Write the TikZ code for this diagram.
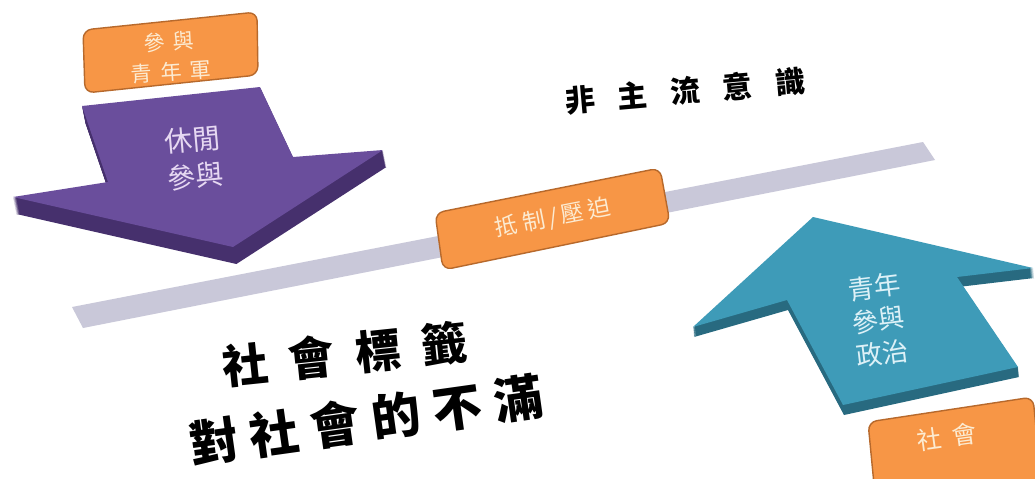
\documentclass[tikz,border=0pt]{standalone}
\usepackage{fontspec}
\newfontfamily\cjk{Noto Sans CJK TC}
\definecolor{barGray}{HTML}{C9C8D9}
\definecolor{tagOrange}{HTML}{F79646}
\definecolor{tagEdge}{HTML}{B7692C}
\definecolor{tagInk}{HTML}{FCEBD2}
\definecolor{leisureTop}{HTML}{6A4E9C}
\definecolor{leisureSide}{HTML}{46306D}
\definecolor{leisureInk}{HTML}{E6D8F2}
\definecolor{politicsTop}{HTML}{3E9BB8}
\definecolor{politicsSide}{HTML}{286A80}
\definecolor{politicsInk}{HTML}{DDF1F7}
\begin{document}
\begin{tikzpicture}
  [x=0.02cm,y=-0.02cm,
   tag/.style={fill=tagOrange,draw=tagEdge,line width=0.8pt,rounded corners=5pt},
   tagtext/.style={text=tagInk,inner sep=0pt,align=center},
   ink/.style={text=black,inner sep=0pt}]
  \clip (0,0) rectangle (1035,478);
  \fill[white] (0,0) rectangle (1035,478);
  % grey bar
  \fill[barGray] (72,307) -- (923,142) -- (935,160) -- (83,328) -- cycle;
  % purple arrow
  \foreach \d in {1,...,17}
    \fill[leisureSide,xshift=\d*0.004cm,yshift=-\d*0.02cm] (82,106) -- (260,87) -- (293,157) -- (383,150) -- (233,247) -- (13,197) -- (108,182) -- cycle;
  \fill[leisureTop] (82,106) -- (260,87) -- (293,157) -- (383,150) -- (233,247) -- (13,197) -- (108,182) -- cycle;
  \node[text=leisureInk,font=\cjk\fontsize{16}{21}\selectfont,rotate=5,align=center,inner sep=0pt] (leisure) at (194,158) {休閒\\參與};
  % teal arrow
  \foreach \d in {1,...,10}
    \fill[politicsSide,xshift=\d*0.002cm,yshift=-\d*0.02cm] (813,217) -- (1033,268) -- (957,277) -- (1018,367) -- (843,405) -- (787,300) -- (693,327) -- cycle;
  \fill[politicsTop] (813,217) -- (1033,268) -- (957,277) -- (1018,367) -- (843,405) -- (787,300) -- (693,327) -- cycle;
  \node[text=politicsInk,font=\cjk\fontsize{15}{19}\selectfont,rotate=7,align=center,inner sep=0pt] (politics) at (878,320) {青年\\參與\\政治};
  % orange tags
  \draw[tag] (83,30) -- (257,12) -- (258,75) -- (85,93) -- cycle;
  \node[tagtext,font=\cjk\fontsize{12}{17}\selectfont,rotate=4] (youthcorps) at (170,57) {參\hspace{5pt}與\\青\hspace{5pt}年\hspace{5pt}軍};
  \draw[tag] (435,213) -- (660,168) -- (670,223) -- (443,270) -- cycle;
  \node[tagtext,font=\cjk\fontsize{13}{13}\selectfont,rotate=11] (resist) at (553,218) {抵\hspace{3pt}制\hspace{2pt}/\hspace{2pt}壓\hspace{3pt}迫};
  \draw[tag] (868,422) -- (1033,397) -- (1042,490) -- (875,495) -- cycle;
  \node[tagtext,font=\cjk\fontsize{14}{14}\selectfont,rotate=8] (society) at (947,437) {社\hspace{6pt}會};
  % black labels
  \node[ink,font=\cjk\bfseries\fontsize{17}{17}\selectfont,rotate=5] (mainstream) at (685,91) {非\hspace{13pt}主\hspace{13pt}流\hspace{13pt}意\hspace{13pt}識};
  \node[ink,font=\cjk\bfseries\fontsize{26}{26}\selectfont,rotate=6] (stigma) at (345,354) {社\hspace{12pt}會\hspace{12pt}標\hspace{12pt}籤};
  \node[ink,font=\cjk\bfseries\fontsize{28}{28}\selectfont,rotate=8] (discontent) at (366,420) {對\hspace{7pt}社\hspace{7pt}會\hspace{7pt}的\hspace{7pt}不\hspace{7pt}滿};
\end{tikzpicture}
\end{document}
